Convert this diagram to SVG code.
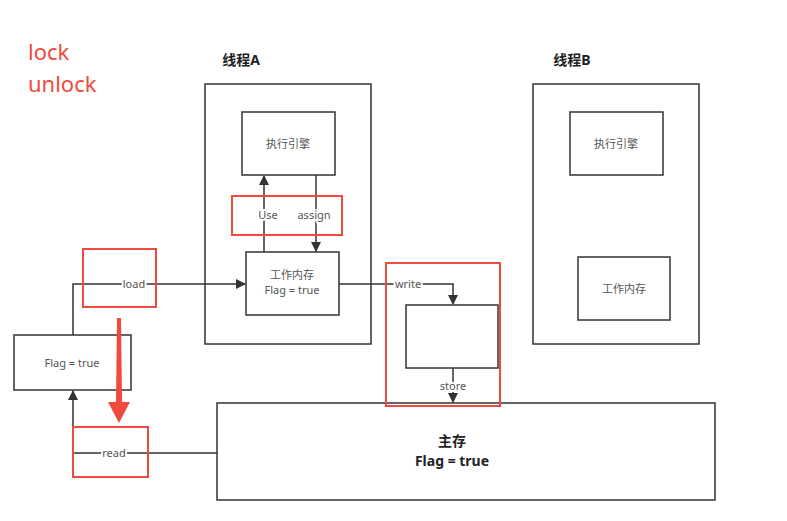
<svg xmlns="http://www.w3.org/2000/svg" width="787" height="521" viewBox="0 0 787 521">
<style>
.b{fill:#fff;stroke:#333;stroke-width:1.5}
.r{fill:none;stroke:#f04a3e;stroke-width:2}
.l{fill:none;stroke:#333;stroke-width:1.5}
text{font-family:"Noto Sans","Noto Sans CJK SC",sans-serif;fill:#555;font-size:11px;text-anchor:middle}
.h{font-size:14px;font-weight:bold;fill:#222}
.lbl{paint-order:stroke;stroke:#fff;stroke-width:4}
</style>
<defs><marker id="a" viewBox="0 0 10 10" refX="9" refY="5" markerWidth="7" markerHeight="7" orient="auto"><path d="M0,0L10,5L0,10z" fill="#333"/></marker></defs>
<rect width="787" height="521" fill="#fff"/>
<text x="28" y="60" style="font-size:22px;fill:#f04a3e;text-anchor:start">lock</text>
<text x="28" y="92" style="font-size:22px;fill:#f04a3e;text-anchor:start">unlock</text>
<g id="threadA"><rect class="b" x="205" y="84" width="166" height="260"/><text class="h" x="241" y="65">线程A</text></g>
<g id="threadB"><rect class="b" x="533" y="84" width="166" height="260"/><text class="h" x="572" y="65">线程B</text></g>
<g id="execA"><rect class="b" x="242" y="112" width="93" height="63"/><text x="288" y="148">执行引擎</text></g>
<g id="workA"><rect class="b" x="246" y="252" width="93" height="63"/><text x="292" y="279">工作内存</text><text x="292" y="294">Flag = true</text></g>
<g id="execB"><rect class="b" x="570" y="112" width="93" height="63"/><text x="616" y="148">执行引擎</text></g>
<g id="workB"><rect class="b" x="578" y="257" width="92" height="63"/><text x="624" y="293">工作内存</text></g>
<g id="buf"><rect class="b" x="406" y="305" width="92" height="63"/></g>
<g id="flag"><rect class="b" x="14" y="335" width="117" height="55"/><text x="72" y="367">Flag = true</text></g>
<g id="main"><rect class="b" x="217" y="403" width="498" height="97"/><text class="h" x="452" y="446">主存</text><text class="h" x="452" y="466">Flag = true</text></g>
<g id="connectors">
<path class="l" d="M264,252V176" marker-end="url(#a)"/>
<path class="l" d="M316,175V251" marker-end="url(#a)"/>
<path class="l" d="M73,335V284H245" marker-end="url(#a)"/>
<path class="l" d="M339,284H453V304" marker-end="url(#a)"/>
<path class="l" d="M453,368V402" marker-end="url(#a)"/>
<path class="l" d="M217,453H73V391" marker-end="url(#a)"/>
<text class="lbl" x="268" y="219">Use</text>
<text class="lbl" x="314" y="219">assign</text>
<text class="lbl" x="134" y="288">load</text>
<text class="lbl" x="408" y="288">write</text>
<text class="lbl" x="453" y="390">store</text>
<text class="lbl" x="114" y="457">read</text>
</g>
<rect class="r" x="232" y="196" width="110" height="39"/>
<rect class="r" x="83" y="249" width="73" height="58"/>
<rect class="r" x="73" y="427" width="75" height="50"/>
<rect class="r" x="386" y="263" width="114" height="143"/>
<path d="M117,318L121,318L122,402L130,402L119,423L108,402L116,402z" fill="#f04a3e"/>
</svg>
